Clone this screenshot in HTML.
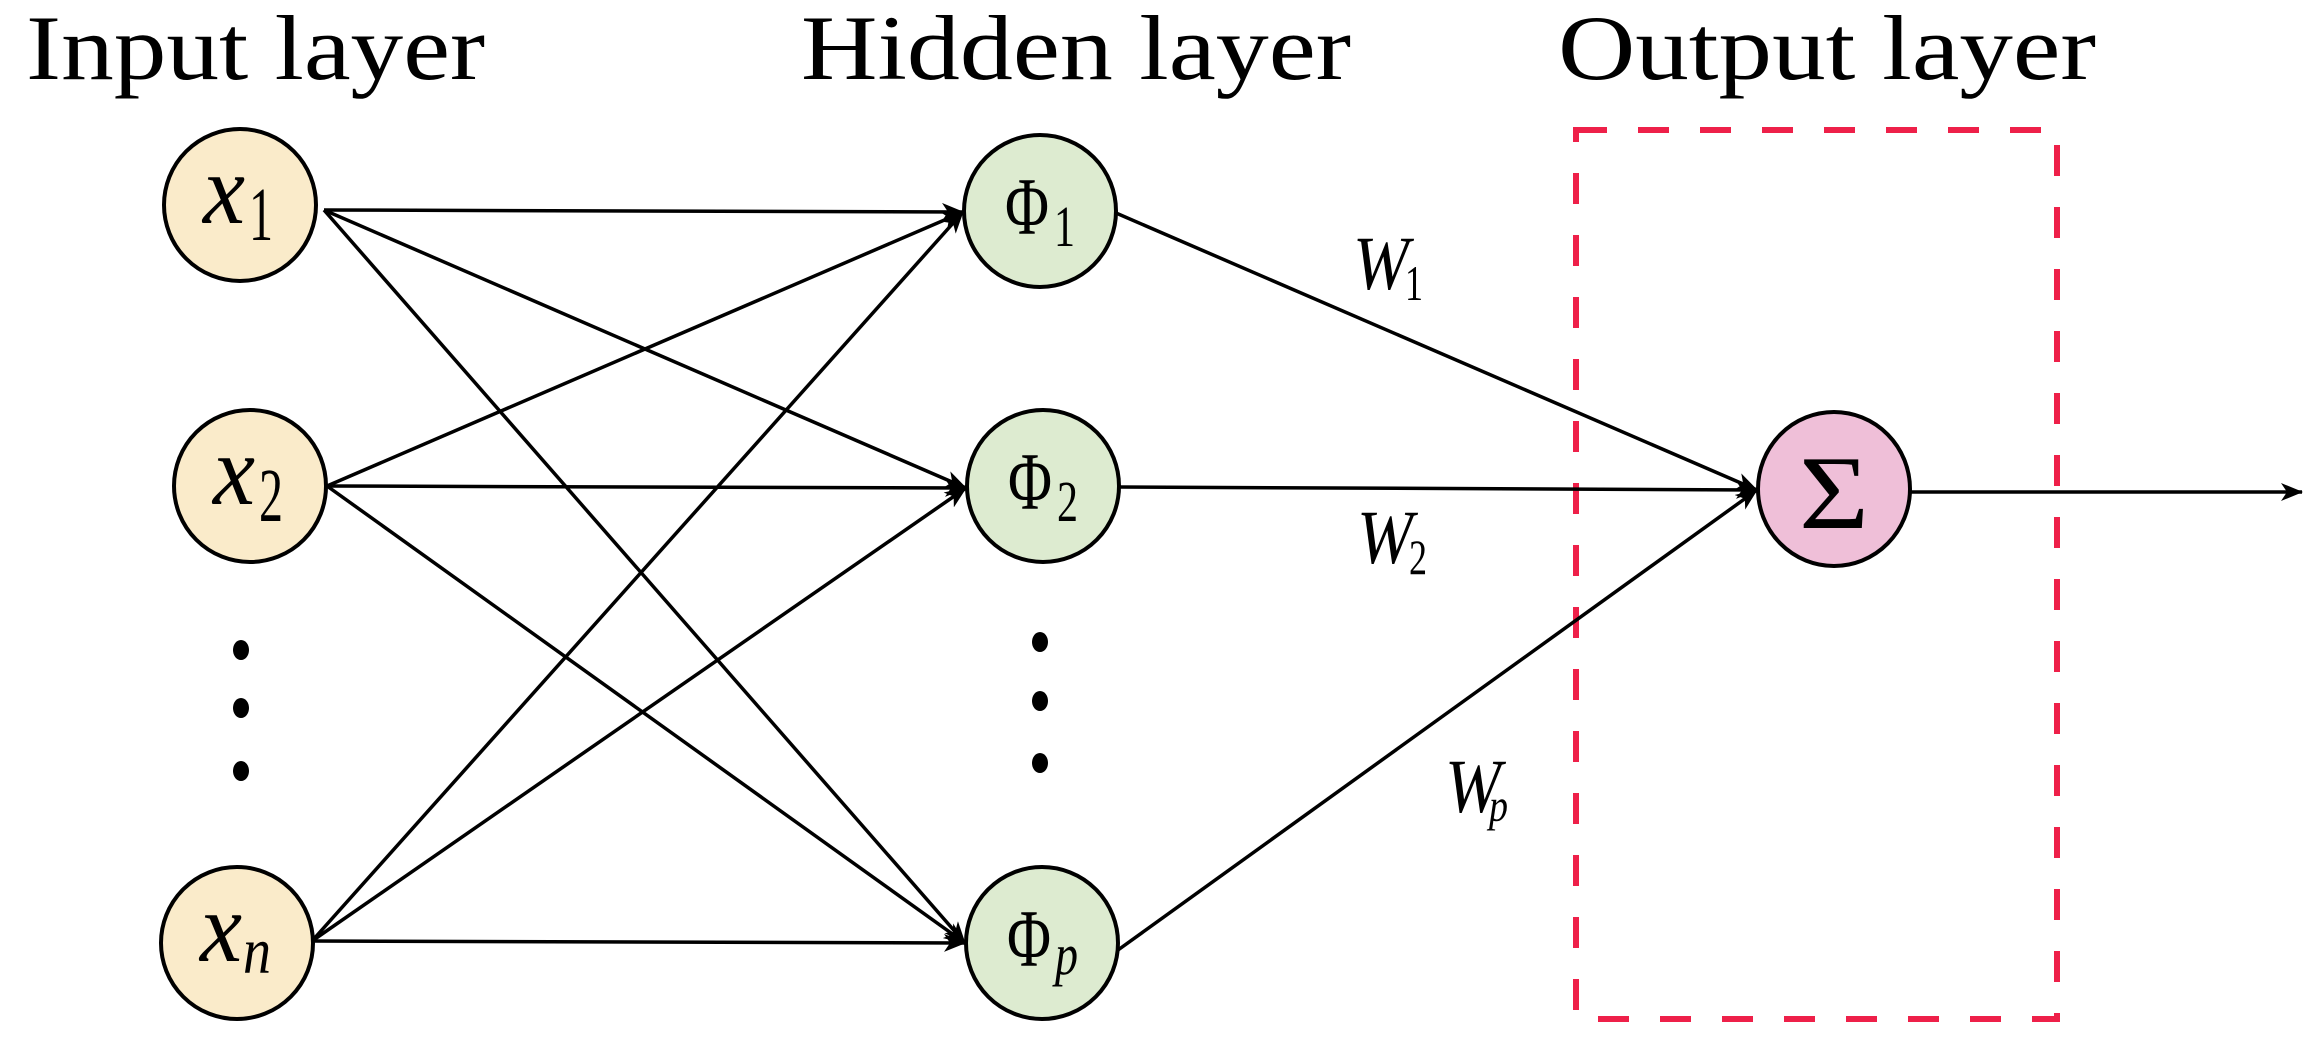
<!DOCTYPE html>
<html><head><meta charset="utf-8"><style>
html,body{margin:0;padding:0;background:#fff;}
svg{display:block;}
text{font-family:"Liberation Serif",serif;fill:#000;}
</style></head><body>
<svg width="2305" height="1048" viewBox="0 0 2305 1048" xmlns="http://www.w3.org/2000/svg">
<defs>
<marker id="ah" markerWidth="22" markerHeight="18" refX="21" refY="9" orient="auto" markerUnits="userSpaceOnUse">
<path d="M0,0 L22,9 L0,18 L6,9 Z" fill="#000"/>
</marker>
</defs>
<!-- titles -->
<text x="26" y="79" font-size="92" textLength="459" lengthAdjust="spacingAndGlyphs">Input layer</text>
<text x="801" y="79" font-size="92" textLength="550" lengthAdjust="spacingAndGlyphs">Hidden layer</text>
<text x="1558" y="79" font-size="92" textLength="538" lengthAdjust="spacingAndGlyphs">Output layer</text>
<!-- dashed box -->
<rect x="1576" y="130" width="481" height="889" fill="none" stroke="#ee2049" stroke-width="6" stroke-dasharray="31 31"/>
<!-- connections -->
<g stroke="#000" stroke-width="3.5" fill="none" marker-end="url(#ah)">
<line x1="324" y1="210" x2="963" y2="212"/>
<line x1="324" y1="210" x2="966" y2="488"/>
<line x1="324" y1="210" x2="965" y2="943"/>
<line x1="327" y1="486" x2="963" y2="212"/>
<line x1="327" y1="486" x2="966" y2="488"/>
<line x1="327" y1="486" x2="965" y2="943"/>
<line x1="312" y1="941" x2="963" y2="212"/>
<line x1="312" y1="941" x2="966" y2="488"/>
<line x1="312" y1="941" x2="965" y2="943"/>
<line x1="1116" y1="213" x2="1757" y2="490"/>
<line x1="1119" y1="487" x2="1757" y2="490"/>
<line x1="1118" y1="950" x2="1757" y2="490"/>
<line x1="1910" y1="492" x2="2302" y2="492"/>
</g>
<!-- nodes -->
<g stroke="#000" stroke-width="4">
<circle cx="240" cy="205" r="76" fill="#faebca"/>
<circle cx="250" cy="486" r="76" fill="#faebca"/>
<circle cx="237" cy="943" r="76" fill="#faebca"/>
<circle cx="1040" cy="211" r="76" fill="#ddebd0"/>
<circle cx="1043" cy="486" r="76" fill="#ddebd0"/>
<circle cx="1042" cy="943" r="76" fill="#ddebd0"/>
<ellipse cx="1834" cy="489" rx="76" ry="77" fill="#efbfd8"/>
</g>
<!-- dots -->
<g fill="#000">
<ellipse cx="241" cy="650" rx="8" ry="10"/>
<ellipse cx="241" cy="708" rx="8" ry="10"/>
<ellipse cx="241" cy="771" rx="8" ry="10"/>
<ellipse cx="1040" cy="642" rx="8" ry="10"/>
<ellipse cx="1040" cy="701" rx="8" ry="10"/>
<ellipse cx="1040" cy="763" rx="8" ry="10"/>
</g>
<!-- node labels -->
<g font-style="italic">
<text x="203" y="223" font-size="100" textLength="42" lengthAdjust="spacingAndGlyphs">x</text>
<text x="213" y="504" font-size="100" textLength="42" lengthAdjust="spacingAndGlyphs">x</text>
<text x="200" y="961" font-size="100" textLength="42" lengthAdjust="spacingAndGlyphs">x</text>
</g>
<text x="249" y="240" font-size="76" textLength="24" lengthAdjust="spacingAndGlyphs">1</text>
<text x="259" y="521" font-size="76" textLength="24" lengthAdjust="spacingAndGlyphs">2</text>
<text x="243" y="973" font-size="66" font-style="italic" textLength="28" lengthAdjust="spacingAndGlyphs">n</text>

<text x="1005" y="234" font-size="82" textLength="44" lengthAdjust="spacingAndGlyphs">Φ</text>
<text x="1054" y="246" font-size="58" textLength="21" lengthAdjust="spacingAndGlyphs">1</text>
<text x="1008" y="509" font-size="82" textLength="44" lengthAdjust="spacingAndGlyphs">Φ</text>
<text x="1057" y="521" font-size="58" textLength="21" lengthAdjust="spacingAndGlyphs">2</text>
<text x="1007" y="966" font-size="82" textLength="44" lengthAdjust="spacingAndGlyphs">Φ</text>
<text x="1055" y="974" font-size="58" font-style="italic" textLength="23" lengthAdjust="spacingAndGlyphs">p</text>

<text x="1799" y="528" font-size="105" textLength="70" lengthAdjust="spacingAndGlyphs">Σ</text>

<!-- weight labels -->
<text x="1353" y="289" font-size="76" font-style="italic" textLength="56" lengthAdjust="spacingAndGlyphs">W</text>
<text x="1405" y="300" font-size="50" textLength="18" lengthAdjust="spacingAndGlyphs">1</text>
<text x="1357" y="563" font-size="76" font-style="italic" textLength="56" lengthAdjust="spacingAndGlyphs">W</text>
<text x="1409" y="574" font-size="50" textLength="18" lengthAdjust="spacingAndGlyphs">2</text>
<text x="1445" y="812" font-size="76" font-style="italic" textLength="56" lengthAdjust="spacingAndGlyphs">W</text>
<text x="1489" y="821" font-size="46" font-style="italic" textLength="19" lengthAdjust="spacingAndGlyphs">p</text>
</svg>
</body></html>
